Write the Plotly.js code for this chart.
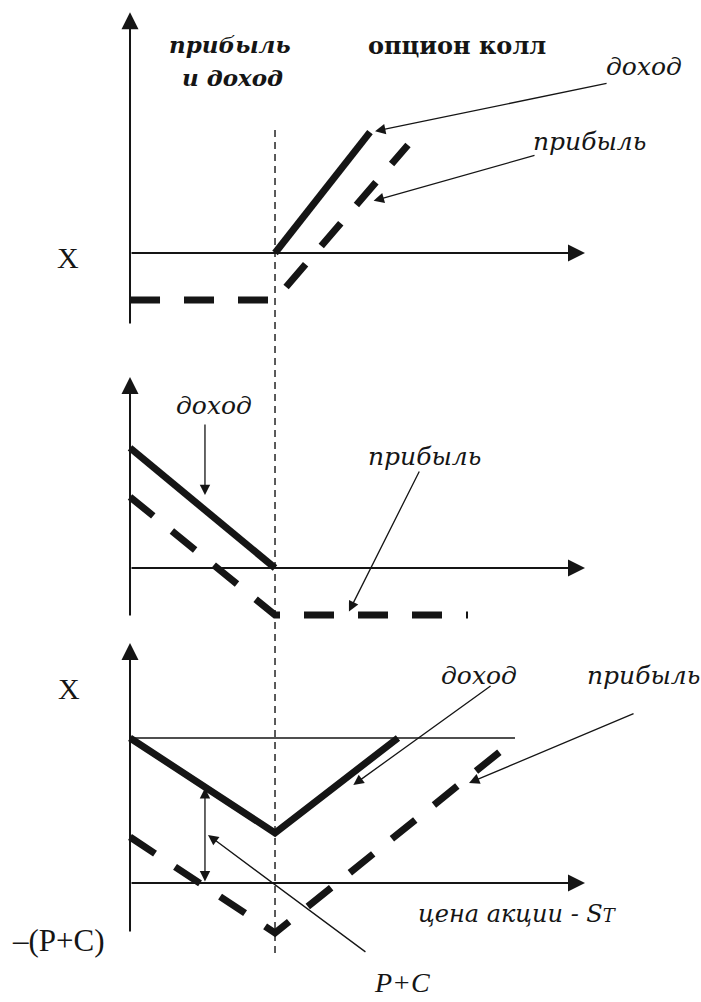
<!DOCTYPE html>
<html>
<head>
<meta charset="utf-8">
<script src="https://cdn.plot.ly/plotly-3.0.1.min.js"></script>
<style>
  html, body { margin: 0; padding: 0; background: #fff; }
  #chart { width: 701px; height: 1002px; }
</style>
</head>
<body>
<div id="chart"></div>
<script>
// strike price on the S axis (one unit)
const strike = 1;

// top: call option
const callIncomeX = [1, 1.655];
const callIncomeY = [0, 0.834];
const callProfitX = [0, 1, 1.917];
const callProfitY = [-0.324, -0.324, 0.745];

// middle: put option
const putIncomeX = [0, 1];
const putIncomeY = [0.828, 0];
const putProfitX = [0, 1, 2.331];
const putProfitY = [0.49, -0.324, -0.324];

// bottom: straddle (put + call)
const strIncomeX = [0, 1, 1.848];
const strIncomeY = [1, 0.345, 1];
const strProfitX = [0, 1, 2.669];
const strProfitY = [0.317, -0.345, 1];
const levelX = [0, 2.655];
const levelY = [1, 1];

const ink = '#151515';
const serif = '"Liberation Serif", serif';
const wide = '"DejaVu Serif", serif';
const solid = { color: ink, width: 7 };
const dashed = { color: ink, width: 7, dash: '30px,24px' };

const line = (x, y, yaxis, style) => ({
    x: x, y: y, yaxis: yaxis, type: 'scatter', mode: 'lines',
    line: style, hoverinfo: 'skip'
});

const data = [
    line(callIncomeX, callIncomeY, 'y', solid),
    line(callProfitX, callProfitY, 'y', dashed),
    line(putIncomeX, putIncomeY, 'y2', solid),
    line(putProfitX, putProfitY, 'y2', dashed),
    line(levelX, levelY, 'y3', { color: ink, width: 1.6 }),
    line(strIncomeX, strIncomeY, 'y3', solid),
    line(strProfitX, strProfitY, 'y3', dashed)
];

// arrows (axes and callouts), tail -> tip, in panel units
const arrow = (yref, ax, ay, x, y, w, extra) => Object.assign({
    xref: 'x', yref: yref, axref: 'x', ayref: yref,
    x: x, y: y, ax: ax, ay: ay, text: '', showarrow: true,
    arrowhead: 2, arrowsize: w > 1.5 ? 1.7 : 1.6, arrowwidth: w, arrowcolor: ink
}, extra || {});

const label = (text, px, py, size, family, italic, bold) => ({
    xref: 'paper', yref: 'paper', x: px / 701, y: 1 - py / 1002,
    xanchor: 'center', yanchor: 'middle', showarrow: false, text: text,
    font: { family: family, size: size, color: ink,
            style: italic ? 'italic' : 'normal', weight: bold ? 'bold' : 'normal' }
});

const annotations = [
    // axes
    arrow('y', 0, -0.497, 0, 1.66, 2),
    arrow('y', 0, 0, 3.138, 0, 2),
    arrow('y2', 0, -0.338, 0, 1.317, 2),
    arrow('y2', 0, 0, 3.138, 0, 2),
    arrow('y3', 0, -0.345, 0, 1.655, 2),
    arrow('y3', 0, 0, 3.138, 0, 2),
    // callouts
    arrow('y', 3.297, 1.172, 1.69, 0.84, 1.3),
    arrow('y', 2.8, 0.676, 1.68, 0.36, 1.3),
    arrow('y2', 0.517, 1.0, 0.517, 0.503, 1.3),
    arrow('y2', 2.0, 0.676, 1.51, -0.3, 1.3),
    arrow('y3', 2.497, 1.366, 1.54, 0.676, 1.3),
    arrow('y3', 3.483, 1.172, 2.338, 0.69, 1.3),
    arrow('y3', 1.634, -0.483, 0.538, 0.331, 1.3),
    arrow('y3', 0.517, 0, 0.517, 0.655, 1.3, { arrowside: 'end+start' }),
    // texts
    label('прибыль', 230, 45, 23, wide, true, true),
    label('и доход', 232, 77, 23, wide, true, true),
    label('опцион колл', 457, 46, 24, wide, false, true),
    label('доход', 644, 67, 25, wide, true, false),
    label('прибыль', 589, 142, 25, wide, true, false),
    label('X', 68, 258, 30, serif, false, false),
    label('доход', 214, 405, 25, wide, true, false),
    label('прибыль', 424, 456, 25, wide, true, false),
    label('X', 69, 688, 30, serif, false, false),
    label('доход', 479, 675, 25, wide, true, false),
    label('прибыль', 643, 675, 25, wide, true, false),
    label('цена акции - S<span style="font-size:18px">T</span>', 517, 914, 24, wide, true, false),
    label('–(P+C)', 58, 940, 31, serif, false, false),
    label('P+C', 402, 982, 28, serif, true, false)
];

const hidden = { visible: false, showgrid: false, zeroline: false, fixedrange: true };

const layout = {
    width: 701, height: 1002,
    margin: { t: 0, b: 0, l: 0, r: 0 },
    paper_bgcolor: '#fff', plot_bgcolor: '#fff',
    showlegend: false,
    xaxis: Object.assign({ range: [-0.8966, 3.9379], anchor: 'y3' }, hidden),
    yaxis: Object.assign({ domain: [0.6707, 1], range: [-0.531, 1.745], anchor: 'x' }, hidden),
    yaxis2: Object.assign({ domain: [0.3762, 0.6707], range: [-0.393, 1.641], anchor: 'x' }, hidden),
    yaxis3: Object.assign({ domain: [0, 0.3762], range: [-0.821, 1.779], anchor: 'x' }, hidden),
    shapes: [{
        type: 'line', xref: 'x', yref: 'paper',
        x0: strike, x1: strike, y0: 1 - 130 / 1002, y1: 1 - 958 / 1002,
        line: { color: ink, width: 1.4, dash: '7px,5px' }
    }],
    annotations: annotations
};

Plotly.newPlot('chart', data, layout, { staticPlot: true });
</script>
</body>
</html>
